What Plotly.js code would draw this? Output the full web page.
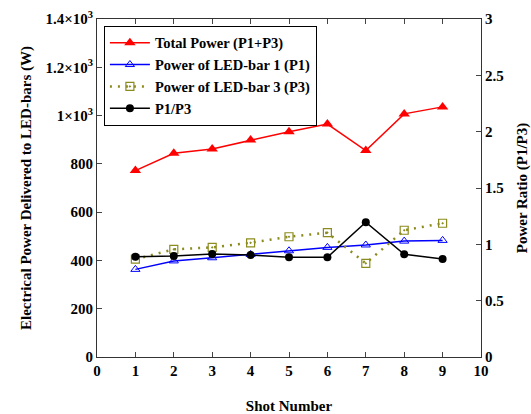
<!DOCTYPE html>
<html><head><meta charset="utf-8">
<script src="https://cdn.plot.ly/plotly-3.0.1.min.js"></script>
<style>html,body{margin:0;padding:0;background:#fff}#chart{width:531px;height:414px}</style>
</head><body><div id="chart"></div>
<script>
const shots = [1,2,3,4,5,6,7,8,9];
const totalPower = [772, 844, 862, 899, 933, 965, 855, 1007, 1036];
const powerP1 = [363, 398, 411, 425, 440, 454, 464, 480, 483];
const powerP3 = [405, 446, 454, 473, 498, 515, 388, 525, 554];
const ratioP1P3 = [0.89, 0.897, 0.915, 0.906, 0.885, 0.885, 1.196, 0.912, 0.87];
const leftTickVals = [0,200,400,600,800,1000,1200,1400];
const leftTickText = ['0','200','400','600','800','1×10<sup>3</sup>','1.2×10<sup>3</sup>','1.4×10<sup>3</sup>'];
const rightTickVals = [0,0.5,1,1.5,2,2.5,3];
const rightTickText = ['0','0.5','1','1.5','2','2.5','3'];

const F = 'Liberation Serif, Times New Roman, serif';
const traces = [
  {x: shots, y: totalPower, name: '<b>Total Power (P1+P3)</b>', mode: 'lines+markers',
   line: {color: '#ff0000', width: 1.5}, marker: {symbol: 'triangle-up', size: 10, color: '#ff0000'}},
  {x: shots, y: powerP1, name: '<b>Power of LED-bar 1 (P1)</b>', mode: 'lines+markers',
   line: {color: '#0000ff', width: 1.5}, marker: {symbol: 'triangle-up-open', size: 8, color: '#0000ff', line:{width:1}}},
  {x: shots, y: powerP3, name: '<b>Power of LED-bar 3 (P3)</b>', mode: 'lines+markers',
   line: {color: '#8c8c1e', width: 2.5, dash: '2px,6px'}, marker: {symbol: 'square-open-dot', size: 8, color: '#8c8c1e', line:{width:1.2}}},
  {x: shots, y: ratioP1P3, name: '<b>P1/P3</b>', mode: 'lines+markers', yaxis: 'y2',
   line: {color: '#000000', width: 1.5}, marker: {symbol: 'circle', size: 8, color: '#000000'}}
];
const layout = {
  width: 531, height: 414,
  margin: {l: 97, r: 50, t: 19, b: 57},
  paper_bgcolor: '#fff', plot_bgcolor: '#fff',
  font: {family: F, size: 15, color: '#000'},
  showlegend: true,
  legend: {x: 0.018, y: 0.98, xanchor: 'left', yanchor: 'top', bgcolor: '#fff',
    bordercolor: '#000', borderwidth: 1, font: {family: F, size: 14.5, color: '#000'},
    tracegroupgap: 0, itemwidth: 40},
  xaxis: {range: [0, 10], tickvals: [0,1,2,3,4,5,6,7,8,9,10], ticks: 'inside', ticklen: 5,
    showline: true, linecolor: '#333', linewidth: 1, mirror: 'ticks', showgrid: false, zeroline: false,
    tickfont: {family: F, size: 15, color: '#000', weight: 'bold'},
    title: {text: '<b>Shot Number</b>', font: {family: F, size: 15, color: '#000'}, standoff: 24}},
  yaxis: {range: [0, 1400], tickvals: leftTickVals, ticktext: leftTickText, ticks: 'inside', ticklen: 5,
    showline: true, linecolor: '#333', linewidth: 1, showgrid: false, zeroline: false,
    tickfont: {family: F, size: 15, color: '#000', weight: 'bold'},
    title: {text: '<b>Electrical Power Delivered to LED-bars (W)</b>', font: {family: F, size: 15, color: '#000'}, standoff: 10}},
  yaxis2: {range: [0, 3], tickvals: rightTickVals, ticktext: rightTickText,
    overlaying: 'y', side: 'right', ticks: 'inside', ticklen: 5,
    showline: true, linecolor: '#333', linewidth: 1, showgrid: false, zeroline: false,
    tickfont: {family: F, size: 15, color: '#000', weight: 'bold'},
    title: {text: '<b>Power Ratio (P1/P3)</b>', font: {family: F, size: 15, color: '#000'}, standoff: 16}}
};
Plotly.newPlot('chart', traces, layout, {staticPlot: true, displayModeBar: false});
</script></body></html>
